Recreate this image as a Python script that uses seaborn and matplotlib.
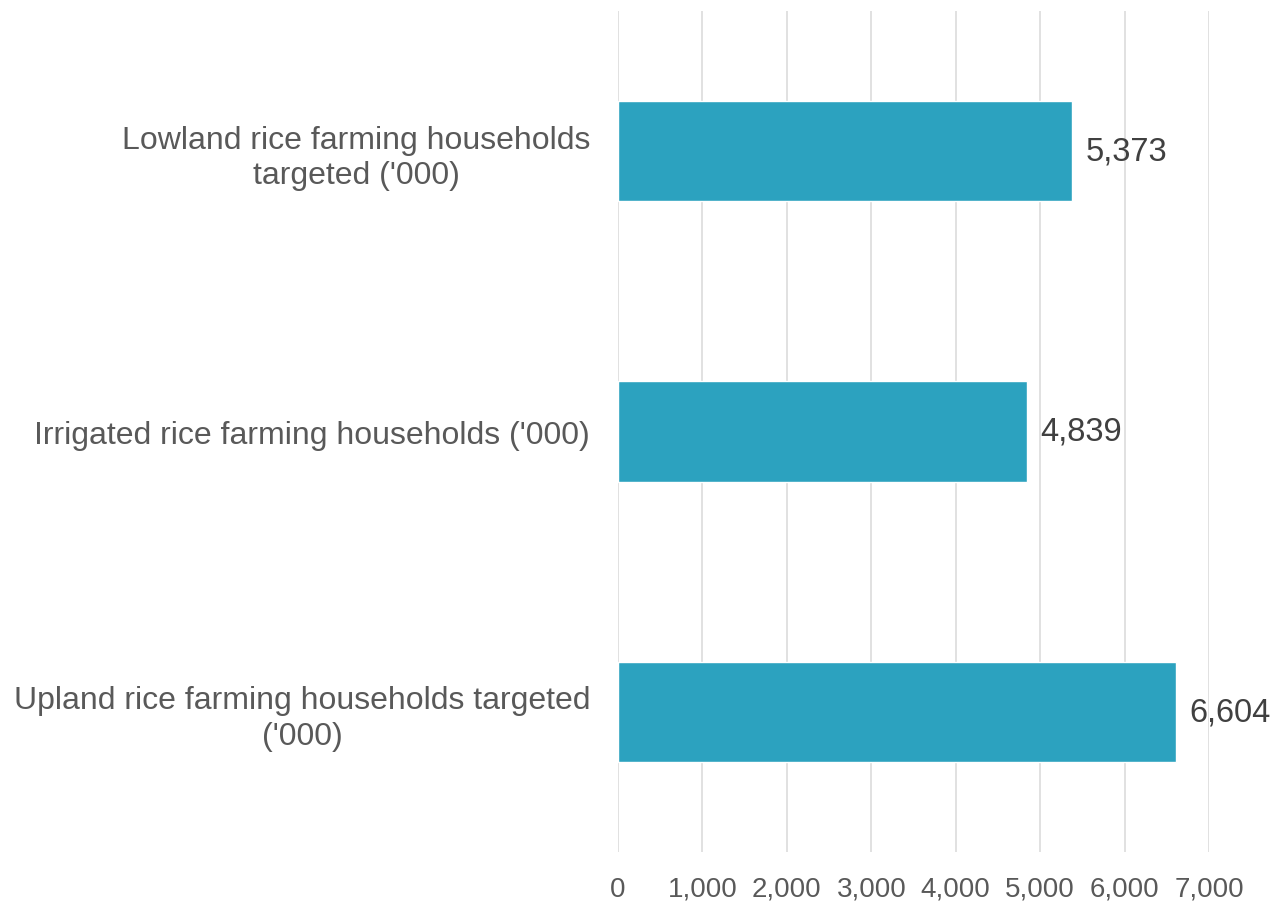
import matplotlib
matplotlib.use("Agg")
import matplotlib.pyplot as plt
import seaborn as sns
import pandas as pd
from matplotlib.ticker import FuncFormatter, MultipleLocator

categories = [
    "Lowland rice farming households\ntargeted ('000)",
    "Irrigated rice farming households ('000)",
    "Upland rice farming households targeted\n('000)",
]
values = [5373, 4839, 6604]

sns.set_theme(style="white")
plt.rcParams['font.family'] = ['Liberation Sans', 'DejaVu Sans']

df = pd.DataFrame({"category": categories, "value": values})

fig = plt.figure(figsize=(12.7, 9.03), dpi=100)
ax = fig.add_axes([0.4866, 0.0554, 0.4654, 0.9313])

sns.barplot(data=df, y="category", x="value", orient="h", color="#2CA2BF",
            saturation=1, width=0.357, ax=ax, zorder=3)

ax.set_xlim(0, 7000)
ax.set_ylim(2.5, -0.5)
ax.xaxis.set_major_locator(MultipleLocator(1000))
ax.xaxis.set_major_formatter(FuncFormatter(lambda v, p: f"{int(v):,}"))
ax.grid(axis="x", color="#D9D9D9", linewidth=1.1, zorder=0)
ax.grid(axis="y", visible=False)
for s in ax.spines.values():
    s.set_visible(False)
ax.set_xlabel("")
ax.set_ylabel("")
ax.tick_params(axis="x", length=0, pad=17, labelsize=20, labelcolor="#595959")
ax.tick_params(axis="y", length=0, pad=20, labelsize=23, labelcolor="#595959")
for lbl in ax.get_yticklabels():
    lbl.set_multialignment("center")
    lbl.set_linespacing(1.25)

for i, v in enumerate(values):
    ax.annotate(f"{v:,}", xy=(v, i), xytext=(10, 0), textcoords="offset points",
                va="center", ha="left", fontsize=23.5, color="#404040")

fig.savefig("out.png", dpi=100)
